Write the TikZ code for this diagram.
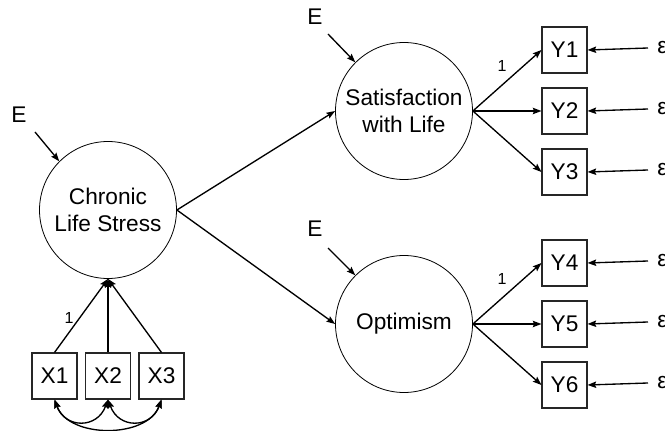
\documentclass[tikz,border=0pt]{standalone}
\usepackage{fontspec}
\setmainfont{Liberation Sans}
\usetikzlibrary{arrows.meta}
\begin{document}
\begin{tikzpicture}[x=0.75pt,y=-0.75pt,
  lat/.style={circle,draw,line width=0.6pt,minimum size=102.75pt,inner sep=0pt,align=center,font=\fontsize{17}{20.5}\selectfont},
  obs/.style={rectangle,draw=black!85,line width=0.8pt,minimum width=33.75pt,minimum height=34.5pt,inner sep=0pt,font=\fontsize{17}{20}\selectfont},
  arr/.style={line width=1pt,-{Stealth[length=6.5pt,width=4.8pt,inset=1pt]}},
  darr/.style={line width=1pt,{Stealth[length=6.5pt,width=4.8pt,inset=1pt]}-{Stealth[length=6.5pt,width=4.8pt,inset=1pt]}},
  epsn/.style={anchor=west,inner xsep=6.75pt,inner ysep=0pt,font=\fontsize{17}{20}\selectfont},
  elab/.style={inner sep=0pt,font=\fontsize{17}{20}\selectfont},
  one/.style={inner sep=0pt,font=\fontsize{12}{14}\selectfont}
]
\useasboundingbox (0,0) rectangle (665,431);

% latent variables
\node[lat] (cls) at (108,210) {Chronic\\Life Stress};
\node[lat] (swl) at (404,111) {Satisfaction\\with Life};
\node[lat] (opt) at (404,324) {Optimism};

% indicators
\node[obs] (X1) at (54.5,376) {X1};
\node[obs] (X2) at (108,376) {X2};
\node[obs] (X3) at (161.5,376) {X3};

\node[obs] (Y1) at (564.5,50) {Y1};
\node[obs] (Y2) at (564.5,111) {Y2};
\node[obs] (Y3) at (564.5,172) {Y3};
\node[obs] (Y4) at (564.5,263) {Y4};
\node[obs] (Y5) at (564.5,324) {Y5};
\node[obs] (Y6) at (564.5,385) {Y6};

% errors
\node[epsn] (e1) at (648,48) {ε};
\node[epsn] (e2) at (648,109) {ε};
\node[epsn] (e3) at (648,170) {ε};
\node[epsn] (e4) at (648,261) {ε};
\node[epsn] (e5) at (648,322) {ε};
\node[epsn] (e6) at (648,383) {ε};

% disturbances
\node[elab] (E1) at (19,115) {E};
\node[elab] (E2) at (315,17) {E};
\node[elab] (E3) at (315,229) {E};
\coordinate (E1s) at (35,132);
\coordinate (E2s) at (328,34);
\coordinate (E3s) at (328,248);

\draw[arr] (E1s) -- (cls.135);
\draw[arr] (E2s) -- (swl.135);
\draw[arr] (E3s) -- (opt.135);

% structural paths
\draw[arr] (cls.east) -- (swl.west);
\draw[arr] (cls.east) -- (opt.west);

% measurement paths
\foreach \y in {Y1,Y2,Y3} \draw[arr] (swl.east) -- (\y.west);
\foreach \y in {Y4,Y5,Y6} \draw[arr] (opt.east) -- (\y.west);
\foreach \x in {X1,X2,X3} \draw[arr] (\x.north) -- (cls.south);

% error arrows
\foreach \i in {1,...,6} \draw[arr] (e\i.west) -- (Y\i.east);

% covariances
\draw[darr] (X1.south) to[out=-70,in=-110,looseness=1.5] (X2.south);
\draw[darr] (X2.south) to[out=-70,in=-110,looseness=1.5] (X3.south);
\draw[darr] (X1.south) to[out=-70,in=-110,looseness=1] (X3.south);

% fixed loadings
\node[one] (l1) at (69,318) {1};
\node[one] (l2) at (502,66) {1};
\node[one] (l3) at (502,279) {1};
\end{tikzpicture}
\end{document}
